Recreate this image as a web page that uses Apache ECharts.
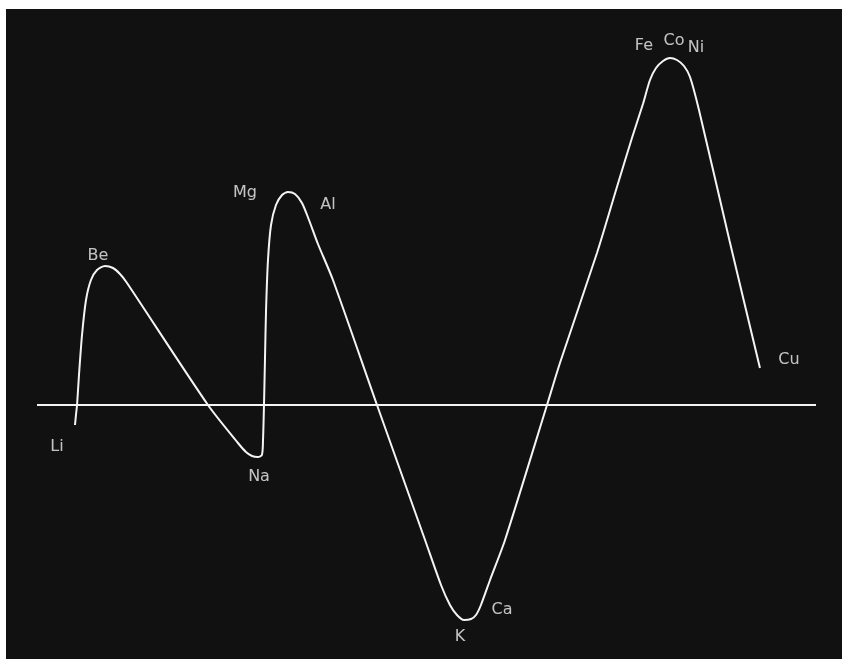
<!DOCTYPE html>
<html>
<head>
<meta charset="utf-8">
<title>Curve</title>
<script src="https://cdn.jsdelivr.net/npm/echarts@6/dist/echarts.min.js"></script>
<style>
  html, body { margin: 0; padding: 0; background: #fff; }
  #chart { width: 842px; height: 659px; }
</style>
</head>
<body>
<div id="chart"></div>
<script>
// x: atomic weight, y: arbitrary units above / below the zero line
const curveX = [7.00, 7.08, 7.17, 7.33, 7.58, 7.91, 8.32, 8.82, 9.48, 10.14, 10.72, 11.30,
  17.99, 20.47, 21.13, 21.63, 22.12, 22.45, 22.54, 22.62, 22.70, 22.79, 22.95,
  23.20, 23.61, 24.11, 24.60, 25.18, 25.76, 26.34, 27.08, 28.32, 31.96, 35.93, 37.25,
  37.99, 38.57, 39.15, 39.73, 40.14, 40.55, 41.30, 42.54, 46.01, 47.08, 50.14,
  51.79, 53.03, 53.94, 54.52, 55.02, 55.60, 56.17, 56.75, 57.33, 57.83, 58.57,
  61.10, 63.61]
const curveY = [-10, -5, 0, 15, 35, 52.5, 62.5, 67.5, 69.5, 68.5, 65.5, 61,
  0, -19, -23.5, -25.5, -26, -25, -17.5, 0, 22.5, 47.5, 72.5,
  90, 100, 105, 106.5, 105.5, 101, 92.5, 80.5, 62.5, 0, -67.5, -90,
  -100, -105, -107.5, -107, -105, -100, -87.5, -67.5, 0, 21, 76,
  109, 133.5, 150.5, 162.5, 168.5, 172, 173.5, 172.5, 169.5, 164, 147.5,
  82, 18.5]

// zero line
const baseX = [3.86, 68.24]
const baseY = [0, 0]

// element names and where they are written
const elements = ['Li', 'Be', 'Na', 'Mg', 'Al', 'K', 'Ca', 'Fe', 'Co', 'Ni', 'Cu']
const labelX = [5.51, 8.90, 22.21, 21.05, 27.91, 38.82, 42.29, 54.02, 56.50, 58.32, 66.01]
const labelY = [-21, 74.5, -36, 106, 100, -116, -102.5, 179.5, 182, 178.5, 22.5]

const chart = echarts.init(document.getElementById('chart'))

const curveData = curveX.map((x, i) => [x, curveY[i]])
const baseData = baseX.map((x, i) => [x, baseY[i]])
const labelData = elements.map((n, i) => ({ name: n, value: [labelX[i], labelY[i]] }))

chart.setOption({
  backgroundColor: '#ffffff',
  animation: false,
  graphic: [{
    type: 'rect',
    z: -10,
    shape: { x: 6, y: 9, width: 836, height: 650 },
    style: { fill: '#111111' }
  }],
  grid: { left: 0, right: 0, top: 0, bottom: 0 },
  xAxis: {
    type: 'value',
    min: 0.802,
    max: 70.39,
    show: false
  },
  yAxis: {
    type: 'value',
    min: -127,
    max: 202.5,
    show: false
  },
  series: [
    {
      type: 'line',
      data: baseData,
      symbol: 'none',
      lineStyle: { color: '#f4f4f4', width: 2 }
    },
    {
      type: 'line',
      data: curveData,
      symbol: 'none',
      smooth: 0.25,
      lineStyle: { color: '#f4f4f4', width: 2 }
    },
    {
      type: 'scatter',
      data: labelData,
      symbolSize: 0,
      label: {
        show: true,
        position: 'inside',
        formatter: '{b}',
        color: '#f0f0f0',
        fontFamily: 'DejaVu Sans',
        fontSize: 16
      }
    }
  ]
})
</script>
</body>
</html>
